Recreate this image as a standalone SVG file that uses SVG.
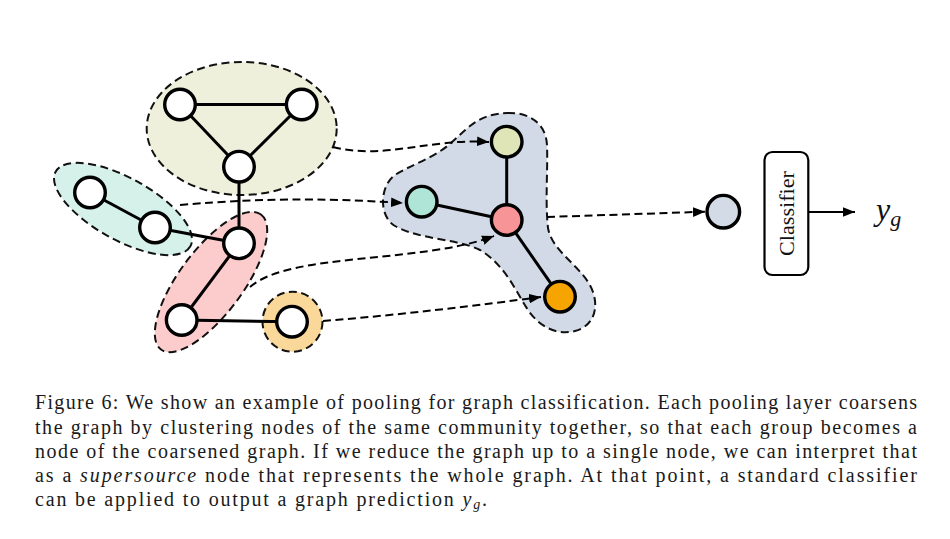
<svg xmlns="http://www.w3.org/2000/svg" width="950" height="539" viewBox="0 0 950 539">
<defs>
<style>
.grp{stroke:#111;stroke-width:2;stroke-dasharray:8 4.5}
.nd{stroke:#000;stroke-width:3.4}
.edge{stroke:#000;stroke-width:3;fill:none}
.dash{stroke:#000;stroke-width:2;fill:none;stroke-dasharray:8 4.5}
.solid{stroke:#000;stroke-width:2.2;fill:none}
.cap{font-family:"Liberation Serif",serif;font-size:20px;fill:#1a1a1a}
</style>
<marker id="ah" viewBox="0 0 10 8" markerUnits="userSpaceOnUse" markerWidth="12" markerHeight="10" refX="10" refY="4" orient="auto">
<path d="M0,0 L10,4 L0,8 Z" fill="#000"/>
</marker>
</defs>
<rect width="950" height="539" fill="#fff"/>

<g id="clusters">
<ellipse id="cluster-green" class="grp" cx="241.7" cy="128.5" rx="95" ry="66.5" fill="#eef0dc"/>
<ellipse id="cluster-teal" class="grp" cx="123" cy="209" rx="77" ry="31" transform="rotate(29 123 209)" fill="#d6f1ea"/>
<ellipse id="cluster-red" class="grp" cx="211" cy="282" rx="84" ry="32" transform="rotate(-53.5 211 282)" fill="#fccbcb"/>
<circle id="cluster-orange" class="grp" cx="292.5" cy="321.7" r="30" fill="#f9d89a"/>
<path id="cluster-blue" class="grp" fill="#d1dae6" d="M507,113 C530,112 546,124 547,145 C548,170 545,200 548,228 C552,250 575,262 588,282 C600,300 598,325 575,331 C555,336 538,325 528,310 C515,290 505,265 480,250 C455,238 420,240 395,226 C378,216 380,185 395,175 C410,165 435,158 452,142 C468,128 478,114 507,113 Z"/>
</g>

<g id="connectors">
<line class="edge" x1="180" y1="104.5" x2="301.7" y2="104.5"/>
<line class="edge" x1="180" y1="104.5" x2="239" y2="166.7"/>
<line class="edge" x1="301.7" y1="104.5" x2="239" y2="166.7"/>
<line class="edge" x1="239" y1="166.7" x2="239" y2="243.3"/>
<line class="edge" x1="155" y1="227.5" x2="239" y2="243.3"/>
<line class="edge" x1="90" y1="192.5" x2="155" y2="227.5"/>
<line class="edge" x1="239" y1="243.3" x2="181.7" y2="320"/>
<line class="edge" x1="181.7" y1="320" x2="290" y2="321.7"/>
<line class="edge" x1="506.7" y1="141.7" x2="506.7" y2="220"/>
<line class="edge" x1="421.7" y1="201.7" x2="506.7" y2="220"/>
<line class="edge" x1="506.7" y1="220" x2="560" y2="296.7"/>
<path class="dash" d="M333,147 C385,160 430,138 489,142" marker-end="url(#ah)"/>
<path class="dash" d="M180,205 C270,197 340,199 403,203" marker-end="url(#ah)"/>
<path class="dash" d="M250,287 C290,252 420,264 494,236" marker-end="url(#ah)"/>
<path class="dash" d="M323,321 C400,315 480,305 541,297" marker-end="url(#ah)"/>
<path class="dash" d="M547,217 L705,211.7" marker-end="url(#ah)"/>
<path class="solid" d="M808.3,212 L855,212" marker-end="url(#ah)"/>
</g>

<g id="nodes">
<circle id="n1" class="nd" cx="180" cy="104.5" r="15.3" fill="#fff"/>
<circle id="n2" class="nd" cx="301.7" cy="104.5" r="15.3" fill="#fff"/>
<circle id="n3" class="nd" cx="239" cy="166.7" r="15.3" fill="#fff"/>
<circle id="n4" class="nd" cx="90" cy="192.5" r="15.3" fill="#fff"/>
<circle id="n5" class="nd" cx="155" cy="227.5" r="15.3" fill="#fff"/>
<circle id="n6" class="nd" cx="239" cy="243.3" r="15.3" fill="#fff"/>
<circle id="n7" class="nd" cx="181.7" cy="320" r="15.3" fill="#fff"/>
<circle id="n8" class="nd" cx="292" cy="321.7" r="15.3" fill="#fff"/>
<circle id="c1" class="nd" cx="506.7" cy="141.7" r="15.3" fill="#e0e5b8"/>
<circle id="c2" class="nd" cx="421.7" cy="201.7" r="15.3" fill="#afe5d6"/>
<circle id="c3" class="nd" cx="506.7" cy="220" r="15.3" fill="#f79497"/>
<circle id="c4" class="nd" cx="560" cy="296.7" r="15.3" fill="#f5a400"/>
<circle id="super" class="nd" cx="723.3" cy="211.7" r="16.3" fill="#d3dbe6"/>
</g>

<g id="classifier">
<rect x="764.5" y="152" width="43.8" height="123" rx="8" fill="#fff" stroke="#000" stroke-width="2.2"/>
<text x="0" y="0" transform="translate(793.5 213.5) rotate(-90)" text-anchor="middle" font-family="Liberation Serif,serif" font-size="21" textLength="85" lengthAdjust="spacingAndGlyphs" fill="#111">Classifier</text>
</g>

<g id="output">
<text x="876" y="220" font-family="Liberation Serif,serif" font-style="italic" font-size="32" fill="#111">y<tspan font-size="22" dy="6">g</tspan></text>
</g>

<g id="caption" class="cap">
<text x="35" y="409.3" textLength="882" lengthAdjust="spacing">Figure 6: We show an example of pooling for graph classification. Each pooling layer coarsens</text>
<text x="35" y="433.5" textLength="882" lengthAdjust="spacing">the graph by clustering nodes of the same community together, so that each group becomes a</text>
<text x="35" y="457.7" textLength="882" lengthAdjust="spacing">node of the coarsened graph. If we reduce the graph up to a single node, we can interpret that</text>
<text x="35" y="481.9" textLength="882" lengthAdjust="spacing">as a <tspan font-style="italic">supersource</tspan> node that represents the whole graph. At that point, a standard classifier</text>
<text x="35" y="506.1" textLength="452" lengthAdjust="spacing">can be applied to output a graph prediction <tspan font-style="italic">y</tspan><tspan font-style="italic" font-size="14" dy="3">g</tspan><tspan dy="-3">.</tspan></text>
</g>
</svg>
